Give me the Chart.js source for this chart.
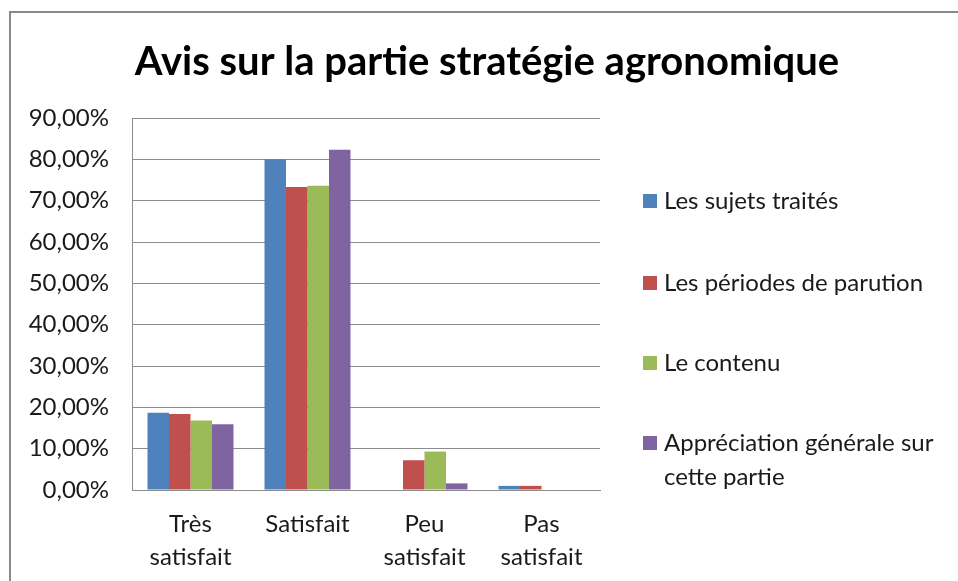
<!DOCTYPE html>
<html>
<head>
<meta charset="utf-8">
<script src="https://cdn.jsdelivr.net/npm/chart.js@4/dist/chart.umd.min.js"></script>
<style>
  html, body { margin: 0; padding: 0; background: #fff; overflow: hidden; }
  #wrap { position: relative; width: 958px; height: 581px; }
  #frame { position: absolute; left: 9px; top: 11px; width: 980px; height: 620px; border: 2px solid #8a8a8a; box-sizing: border-box; }
  canvas { position: absolute; left: 0; top: 0; }
</style>
</head>
<body>
<div id="wrap">
  <div id="frame"></div>
  <canvas id="c" width="958" height="581"></canvas>
</div>
<script>
const titleText = "Avis sur la partie stratégie agronomique";
const categories = [["Très", "satisfait"], "Satisfait", ["Peu", "satisfait"], ["Pas", "satisfait"]];
const seriesNames = ["Les sujets traités", "Les périodes de parution", "Le contenu", "Appréciation générale sur cette partie"];
const seriesColors = ["#4F81BD", "#C0504D", "#9BBB59", "#8064A2"];
const sujetsTraites = [18.7, 80.0, 0, 1.0];
const periodesParution = [18.4, 73.3, 7.2, 1.0];
const contenu = [16.8, 73.6, 9.3, 0];
const appreciationGenerale = [15.9, 82.3, 1.6, 0];
const yMax = 90;
const yStep = 10;

const FONT = "Lato, 'Open Sans', sans-serif";

const seriesValues = [sujetsTraites, periodesParution, contenu, appreciationGenerale];

const titlePlugin = {
  id: 'customTitle',
  afterDraw(chart) {
    const ctx = chart.ctx;
    ctx.save();
    ctx.font = "bold 40px " + FONT;
    ctx.fillStyle = "#000";
    ctx.textAlign = "center";
    ctx.textBaseline = "middle";
    ctx.fillText(titleText, 487, 62);
    ctx.restore();
  }
};

const legendPlugin = {
  id: 'customLegend',
  afterDraw(chart) {
    const ctx = chart.ctx;
    ctx.save();
    ctx.font = "24px " + FONT;
    ctx.textBaseline = "middle";
    ctx.textAlign = "left";
    const x0 = 643, tx = 664, maxW = 290;
    const rowsY = [201, 283, 363, 443];
    const lineH = 34;
    chart.data.datasets.forEach((ds, i) => {
      const y = rowsY[i];
      ctx.fillStyle = ds.backgroundColor;
      ctx.fillRect(x0, y - 7, 14, 14);
      const words = ds.label.split(" ");
      const lines = [];
      let cur = "";
      words.forEach(w => {
        const test = cur ? cur + " " + w : w;
        if (ctx.measureText(test).width > maxW && cur) { lines.push(cur); cur = w; }
        else cur = test;
      });
      if (cur) lines.push(cur);
      ctx.fillStyle = "#1a1a1a";
      lines.forEach((ln, k) => ctx.fillText(ln, tx, y + k * lineH));
    });
    ctx.restore();
  }
};

new Chart(document.getElementById('c'), {
  type: 'bar',
  data: {
    labels: categories,
    datasets: seriesNames.map((name, i) => ({
      label: name,
      data: seriesValues[i],
      backgroundColor: seriesColors[i],
      borderWidth: 0,
      categoryPercentage: 0.735,
      barPercentage: 1.0
    }))
  },
  options: {
    responsive: false,
    animation: false,
    layout: { padding: { top: 118, right: 358, left: 0, bottom: 0 } },
    plugins: {
      legend: { display: false },
      title: { display: false },
      tooltip: { enabled: false }
    },
    scales: {
      x: {
        afterFit(scale) { scale.height = 91; },
        grid: { display: false, drawTicks: false },
        border: { display: true, color: '#8c8c8c', width: 1 },
        ticks: {
          color: '#1a1a1a',
          font: { family: FONT, size: 24, lineHeight: 1.38 },
          padding: 18,
          maxRotation: 0,
          autoSkip: false
        }
      },
      y: {
        min: 0,
        max: yMax,
        afterFit(scale) { scale.width = 132; },
        grid: { color: '#8c8c8c', lineWidth: 1, drawTicks: false },
        border: { display: true, color: '#8c8c8c', width: 1 },
        ticks: {
          stepSize: yStep,
          color: '#1a1a1a',
          font: { family: FONT, size: 24 },
          padding: 23,
          callback: v => v.toFixed(2).replace('.', ',') + '%'
        }
      }
    }
  },
  plugins: [titlePlugin, legendPlugin]
});
</script>
</body>
</html>
